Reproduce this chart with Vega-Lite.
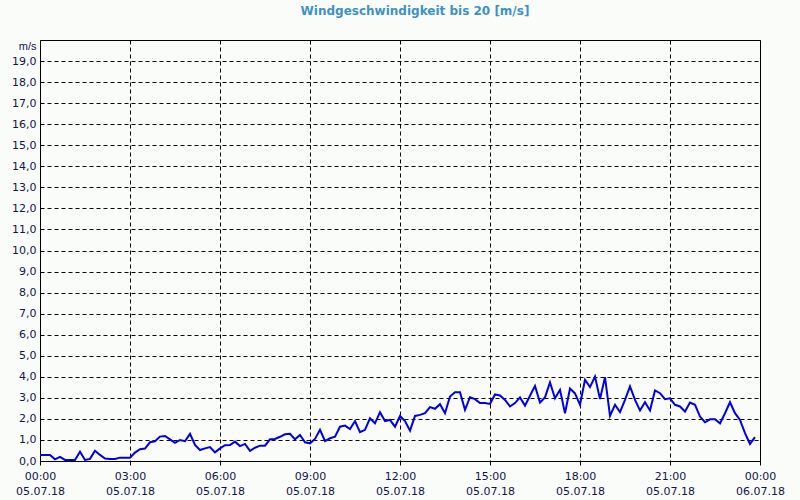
{
  "$schema": "https://vega.github.io/schema/vega-lite/v6.json",
  "autosize": {"type": "none"},
  "padding": {"left": 40, "top": 40, "right": 40, "bottom": 39},
  "background": "#fafcfa",
  "width": 720,
  "height": 421,
  "title": {"text": "Windgeschwindigkeit bis 20 [m/s]", "color": "#3c92c8", "fontSize": 12, "font": "DejaVu Sans", "fontWeight": "bold", "anchor": "middle", "offset": 22, "dx": 15},
  "config": {
    "view": {"stroke": "#000000", "strokeWidth": 1},
    "axis": {
      "labelFont": "DejaVu Sans",
      "labelFontSize": 11,
      "labelColor": "#14144a",
      "domain": false,
      "gridColor": "#000000",
      "gridDash": [4, 3],
      "gridWidth": 1,
      "gridOpacity": 1
    }
  },
  "data": {"values": [
    {"t": "2018-07-05T00:00:00Z", "v": 0.29},
    {"t": "2018-07-05T00:10:00Z", "v": 0.29},
    {"t": "2018-07-05T00:20:00Z", "v": 0.29},
    {"t": "2018-07-05T00:30:00Z", "v": 0.08},
    {"t": "2018-07-05T00:40:00Z", "v": 0.2},
    {"t": "2018-07-05T00:50:00Z", "v": 0.05},
    {"t": "2018-07-05T01:00:00Z", "v": 0.05},
    {"t": "2018-07-05T01:10:00Z", "v": 0.05},
    {"t": "2018-07-05T01:20:00Z", "v": 0.44},
    {"t": "2018-07-05T01:30:00Z", "v": 0.05},
    {"t": "2018-07-05T01:40:00Z", "v": 0.1},
    {"t": "2018-07-05T01:50:00Z", "v": 0.49},
    {"t": "2018-07-05T02:00:00Z", "v": 0.29},
    {"t": "2018-07-05T02:10:00Z", "v": 0.12},
    {"t": "2018-07-05T02:20:00Z", "v": 0.1},
    {"t": "2018-07-05T02:30:00Z", "v": 0.1},
    {"t": "2018-07-05T02:40:00Z", "v": 0.16},
    {"t": "2018-07-05T02:50:00Z", "v": 0.16},
    {"t": "2018-07-05T03:00:00Z", "v": 0.16},
    {"t": "2018-07-05T03:10:00Z", "v": 0.4},
    {"t": "2018-07-05T03:20:00Z", "v": 0.56},
    {"t": "2018-07-05T03:30:00Z", "v": 0.59},
    {"t": "2018-07-05T03:40:00Z", "v": 0.89},
    {"t": "2018-07-05T03:50:00Z", "v": 0.94},
    {"t": "2018-07-05T04:00:00Z", "v": 1.16},
    {"t": "2018-07-05T04:10:00Z", "v": 1.19},
    {"t": "2018-07-05T04:20:00Z", "v": 1.03},
    {"t": "2018-07-05T04:30:00Z", "v": 0.86},
    {"t": "2018-07-05T04:40:00Z", "v": 1.0},
    {"t": "2018-07-05T04:50:00Z", "v": 0.94},
    {"t": "2018-07-05T05:00:00Z", "v": 1.29},
    {"t": "2018-07-05T05:10:00Z", "v": 0.76},
    {"t": "2018-07-05T05:20:00Z", "v": 0.52},
    {"t": "2018-07-05T05:30:00Z", "v": 0.6},
    {"t": "2018-07-05T05:40:00Z", "v": 0.66},
    {"t": "2018-07-05T05:50:00Z", "v": 0.41},
    {"t": "2018-07-05T06:00:00Z", "v": 0.6},
    {"t": "2018-07-05T06:10:00Z", "v": 0.75},
    {"t": "2018-07-05T06:20:00Z", "v": 0.76},
    {"t": "2018-07-05T06:30:00Z", "v": 0.92},
    {"t": "2018-07-05T06:40:00Z", "v": 0.71},
    {"t": "2018-07-05T06:50:00Z", "v": 0.81},
    {"t": "2018-07-05T07:00:00Z", "v": 0.48},
    {"t": "2018-07-05T07:10:00Z", "v": 0.63},
    {"t": "2018-07-05T07:20:00Z", "v": 0.73},
    {"t": "2018-07-05T07:30:00Z", "v": 0.73},
    {"t": "2018-07-05T07:40:00Z", "v": 1.03},
    {"t": "2018-07-05T07:50:00Z", "v": 1.05},
    {"t": "2018-07-05T08:00:00Z", "v": 1.15},
    {"t": "2018-07-05T08:10:00Z", "v": 1.27},
    {"t": "2018-07-05T08:20:00Z", "v": 1.29},
    {"t": "2018-07-05T08:30:00Z", "v": 1.03},
    {"t": "2018-07-05T08:40:00Z", "v": 1.24},
    {"t": "2018-07-05T08:50:00Z", "v": 0.89},
    {"t": "2018-07-05T09:00:00Z", "v": 0.84},
    {"t": "2018-07-05T09:10:00Z", "v": 1.05},
    {"t": "2018-07-05T09:20:00Z", "v": 1.48},
    {"t": "2018-07-05T09:30:00Z", "v": 0.95},
    {"t": "2018-07-05T09:40:00Z", "v": 1.08},
    {"t": "2018-07-05T09:50:00Z", "v": 1.16},
    {"t": "2018-07-05T10:00:00Z", "v": 1.63},
    {"t": "2018-07-05T10:10:00Z", "v": 1.68},
    {"t": "2018-07-05T10:20:00Z", "v": 1.52},
    {"t": "2018-07-05T10:30:00Z", "v": 1.9},
    {"t": "2018-07-05T10:40:00Z", "v": 1.37},
    {"t": "2018-07-05T10:50:00Z", "v": 1.48},
    {"t": "2018-07-05T11:00:00Z", "v": 2.03},
    {"t": "2018-07-05T11:10:00Z", "v": 1.79},
    {"t": "2018-07-05T11:20:00Z", "v": 2.32},
    {"t": "2018-07-05T11:30:00Z", "v": 1.9},
    {"t": "2018-07-05T11:40:00Z", "v": 1.95},
    {"t": "2018-07-05T11:50:00Z", "v": 1.63},
    {"t": "2018-07-05T12:00:00Z", "v": 2.14},
    {"t": "2018-07-05T12:10:00Z", "v": 1.9},
    {"t": "2018-07-05T12:20:00Z", "v": 1.44},
    {"t": "2018-07-05T12:30:00Z", "v": 2.14},
    {"t": "2018-07-05T12:40:00Z", "v": 2.19},
    {"t": "2018-07-05T12:50:00Z", "v": 2.27},
    {"t": "2018-07-05T13:00:00Z", "v": 2.56},
    {"t": "2018-07-05T13:10:00Z", "v": 2.48},
    {"t": "2018-07-05T13:20:00Z", "v": 2.7},
    {"t": "2018-07-05T13:30:00Z", "v": 2.27},
    {"t": "2018-07-05T13:40:00Z", "v": 3.06},
    {"t": "2018-07-05T13:50:00Z", "v": 3.27},
    {"t": "2018-07-05T14:00:00Z", "v": 3.27},
    {"t": "2018-07-05T14:10:00Z", "v": 2.43},
    {"t": "2018-07-05T14:20:00Z", "v": 3.03},
    {"t": "2018-07-05T14:30:00Z", "v": 2.94},
    {"t": "2018-07-05T14:40:00Z", "v": 2.75},
    {"t": "2018-07-05T14:50:00Z", "v": 2.75},
    {"t": "2018-07-05T15:00:00Z", "v": 2.71},
    {"t": "2018-07-05T15:10:00Z", "v": 3.16},
    {"t": "2018-07-05T15:20:00Z", "v": 3.11},
    {"t": "2018-07-05T15:30:00Z", "v": 2.9},
    {"t": "2018-07-05T15:40:00Z", "v": 2.59},
    {"t": "2018-07-05T15:50:00Z", "v": 2.75},
    {"t": "2018-07-05T16:00:00Z", "v": 3.02},
    {"t": "2018-07-05T16:10:00Z", "v": 2.63},
    {"t": "2018-07-05T16:20:00Z", "v": 3.1},
    {"t": "2018-07-05T16:30:00Z", "v": 3.57},
    {"t": "2018-07-05T16:40:00Z", "v": 2.78},
    {"t": "2018-07-05T16:50:00Z", "v": 3.02},
    {"t": "2018-07-05T17:00:00Z", "v": 3.73},
    {"t": "2018-07-05T17:10:00Z", "v": 2.98},
    {"t": "2018-07-05T17:20:00Z", "v": 3.38},
    {"t": "2018-07-05T17:30:00Z", "v": 2.27},
    {"t": "2018-07-05T17:40:00Z", "v": 3.44},
    {"t": "2018-07-05T17:50:00Z", "v": 3.21},
    {"t": "2018-07-05T18:00:00Z", "v": 2.67},
    {"t": "2018-07-05T18:10:00Z", "v": 3.86},
    {"t": "2018-07-05T18:20:00Z", "v": 3.51},
    {"t": "2018-07-05T18:30:00Z", "v": 4.01},
    {"t": "2018-07-05T18:40:00Z", "v": 2.94},
    {"t": "2018-07-05T18:50:00Z", "v": 3.98},
    {"t": "2018-07-05T19:00:00Z", "v": 2.14},
    {"t": "2018-07-05T19:10:00Z", "v": 2.67},
    {"t": "2018-07-05T19:20:00Z", "v": 2.32},
    {"t": "2018-07-05T19:30:00Z", "v": 2.9},
    {"t": "2018-07-05T19:40:00Z", "v": 3.54},
    {"t": "2018-07-05T19:50:00Z", "v": 2.9},
    {"t": "2018-07-05T20:00:00Z", "v": 2.4},
    {"t": "2018-07-05T20:10:00Z", "v": 2.79},
    {"t": "2018-07-05T20:20:00Z", "v": 2.4},
    {"t": "2018-07-05T20:30:00Z", "v": 3.35},
    {"t": "2018-07-05T20:40:00Z", "v": 3.22},
    {"t": "2018-07-05T20:50:00Z", "v": 2.94},
    {"t": "2018-07-05T21:00:00Z", "v": 2.98},
    {"t": "2018-07-05T21:10:00Z", "v": 2.67},
    {"t": "2018-07-05T21:20:00Z", "v": 2.59},
    {"t": "2018-07-05T21:30:00Z", "v": 2.35},
    {"t": "2018-07-05T21:40:00Z", "v": 2.78},
    {"t": "2018-07-05T21:50:00Z", "v": 2.67},
    {"t": "2018-07-05T22:00:00Z", "v": 2.11},
    {"t": "2018-07-05T22:10:00Z", "v": 1.84},
    {"t": "2018-07-05T22:20:00Z", "v": 1.98},
    {"t": "2018-07-05T22:30:00Z", "v": 1.98},
    {"t": "2018-07-05T22:40:00Z", "v": 1.79},
    {"t": "2018-07-05T22:50:00Z", "v": 2.27},
    {"t": "2018-07-05T23:00:00Z", "v": 2.79},
    {"t": "2018-07-05T23:10:00Z", "v": 2.27},
    {"t": "2018-07-05T23:20:00Z", "v": 1.95},
    {"t": "2018-07-05T23:30:00Z", "v": 1.32},
    {"t": "2018-07-05T23:40:00Z", "v": 0.81},
    {"t": "2018-07-05T23:50:00Z", "v": 1.13}
  ]},
  "mark": {"type": "line", "color": "#0000e6", "strokeWidth": 2, "clip": true},
  "encoding": {
    "x": {
      "field": "t",
      "type": "temporal",
      "title": null,
      "scale": {"type": "utc", "domain": [1530748800000, 1530835200000], "nice": false},
      "axis": {
        "values": [1530748800000, 1530759600000, 1530770400000, 1530781200000, 1530792000000, 1530802800000, 1530813600000, 1530824400000, 1530835200000],
        "tickSize": 4,
        "tickColor": "#000000",
        "labelPadding": 5,
        "labelLineHeight": 15,
        "labelFlush": false,
        "labelOverlap": false,
        "labelExpr": "[utcFormat(datum.value, '%H:%M'), utcFormat(datum.value, '%d.%m.%y')]"
      }
    },
    "y": {
      "field": "v",
      "type": "quantitative",
      "scale": {"domain": [0, 20], "nice": false},
      "axis": {
        "values": [0, 1, 2, 3, 4, 5, 6, 7, 8, 9, 10, 11, 12, 13, 14, 15, 16, 17, 18, 19],
        "ticks": false,
        "labelPadding": 4,
        "labelExpr": "replace(format(datum.value, '.1f'), '.', ',')",
        "title": "m/s",
        "titleAngle": 0,
        "titleAlign": "right",
        "titleBaseline": "middle",
        "titleFontSize": 11,
        "titleFontWeight": "normal",
        "titleColor": "#14144a",
        "titleX": -4,
        "titleY": 6
      }
    }
  }
}
